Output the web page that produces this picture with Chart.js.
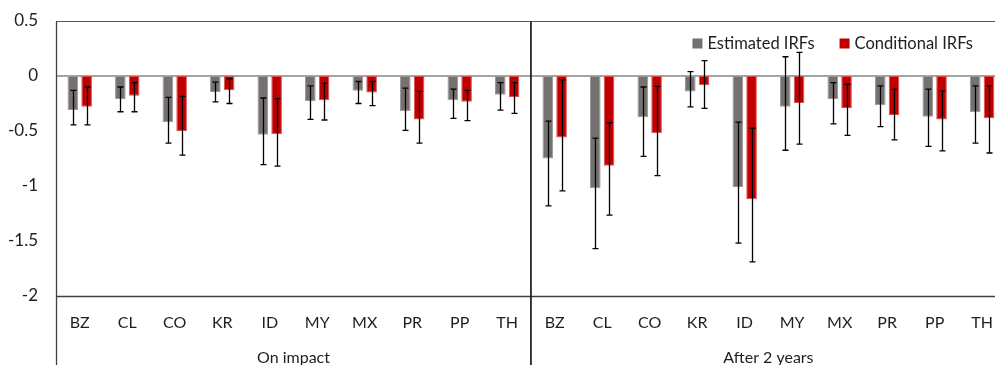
<!DOCTYPE html>
<html>
<head>
<meta charset="utf-8">
<script src="https://cdn.jsdelivr.net/npm/chart.js@4.4.1/dist/chart.umd.min.js"></script>
<style>
  html, body { margin: 0; padding: 0; background: #fff; overflow: hidden; }
  #wrap { width: 995px; height: 365px; overflow: hidden; position: relative; }
  canvas { display: block; }
</style>
</head>
<body>
<div id="wrap"><canvas id="c" width="1010" height="365"></canvas></div>
<script>
// ---- data ----
const countries = ['BZ','CL','CO','KR','ID','MY','MX','PR','PP','TH'];
const groups = ['On impact', 'After 2 years'];
const yTicks = [0.5, 0, -0.5, -1, -1.5, -2];

const estImpact    = [-0.31, -0.21, -0.42, -0.145, -0.535, -0.23, -0.135, -0.32, -0.22, -0.17];
const estImpactLo  = [-0.445, -0.325, -0.61, -0.235, -0.805, -0.395, -0.25, -0.495, -0.385, -0.31];
const estImpactHi  = [-0.13, -0.10, -0.195, -0.055, -0.20, -0.09, -0.05, -0.11, -0.12, -0.06];
const condImpact   = [-0.28, -0.18, -0.50, -0.13, -0.53, -0.22, -0.15, -0.395, -0.235, -0.19];
const condImpactLo = [-0.445, -0.325, -0.72, -0.25, -0.82, -0.40, -0.27, -0.61, -0.405, -0.34];
const condImpactHi = [-0.10, -0.06, -0.185, -0.025, -0.205, -0.065, -0.05, -0.14, -0.13, -0.06];

const est2y    = [-0.75, -1.02, -0.375, -0.14, -1.01, -0.28, -0.21, -0.265, -0.37, -0.33];
const est2yLo  = [-1.18, -1.57, -0.73, -0.28, -1.52, -0.675, -0.435, -0.46, -0.64, -0.61];
const est2yHi  = [-0.41, -0.565, -0.10, 0.04, -0.42, 0.175, -0.06, -0.09, -0.12, -0.09];
const cond2y   = [-0.56, -0.815, -0.52, -0.085, -1.12, -0.245, -0.29, -0.355, -0.395, -0.385];
const cond2yLo = [-1.045, -1.265, -0.905, -0.295, -1.69, -0.62, -0.54, -0.58, -0.68, -0.70];
const cond2yHi = [-0.035, -0.425, -0.095, 0.14, -0.475, 0.215, -0.075, -0.12, -0.135, -0.09];

// ---- build ----
const FONT = 'Lato, "Open Sans", sans-serif';
const TXT = '#1e1e1e';
const labels = countries.concat(countries);

const datasets = [
  {
    label: 'Estimated IRFs',
    data: estImpact.concat(est2y),
    errLo: estImpactLo.concat(est2yLo),
    errHi: estImpactHi.concat(est2yHi),
    backgroundColor: '#767171',
    borderColor: '#9c9898',
    borderWidth: 1,
    borderSkipped: false
  },
  {
    label: 'Conditional IRFs',
    data: condImpact.concat(cond2y),
    errLo: condImpactLo.concat(cond2yLo),
    errHi: condImpactHi.concat(cond2yHi),
    backgroundColor: '#C00000',
    borderColor: '#d85050',
    borderWidth: 1,
    borderSkipped: false
  }
];

function hline(ctx, x1, x2, y, color, w) {
  ctx.save(); ctx.strokeStyle = color; ctx.lineWidth = w;
  ctx.beginPath(); ctx.moveTo(x1, y); ctx.lineTo(x2, y); ctx.stroke(); ctx.restore();
}
function vline(ctx, x, y1, y2, color, w) {
  ctx.save(); ctx.strokeStyle = color; ctx.lineWidth = w;
  ctx.beginPath(); ctx.moveTo(x, y1); ctx.lineTo(x, y2); ctx.stroke(); ctx.restore();
}

const framePlugin = {
  id: 'frame',
  beforeDatasetsDraw(chart) {
    const { ctx, chartArea: a, scales } = chart;
    const x = scales.x, y = scales.y;
    const yTop = Math.round(y.getPixelForValue(yTicks[0])) + 0.5;
    const yBot = Math.round(y.getPixelForValue(yTicks[yTicks.length - 1])) + 0.5;
    const y0 = y.getPixelForValue(0);
    hline(ctx, a.left, a.right, yTop, '#595959', 1);
    hline(ctx, a.left, a.right, yBot, '#404040', 1.3);
    hline(ctx, a.left, a.right, y0, '#868686', 1.5);
    const n = labels.length;
    const half = n / 2;
    const xl = Math.round(a.left) + 0.5;
    const xm = (x.getPixelForValue(half - 1) + x.getPixelForValue(half)) / 2;
    vline(ctx, xl, yTop, chart.height, '#404040', 1.3);
    vline(ctx, xm, yTop, chart.height, '#1a1a1a', 1.7);
    vline(ctx, a.right, yTop, chart.height, '#404040', 1.3);
  },
  afterDatasetsDraw(chart) {
    const { ctx, scales } = chart;
    const y = scales.y;
    chart.data.datasets.forEach((ds, i) => {
      const meta = chart.getDatasetMeta(i);
      meta.data.forEach((bar, j) => {
        const bx = Math.round(bar.x) + 0.5;
        const lo = y.getPixelForValue(ds.errLo[j]);
        const hi = y.getPixelForValue(ds.errHi[j]);
        ctx.save();
        ctx.strokeStyle = '#000';
        ctx.lineWidth = 1.3;
        ctx.beginPath();
        ctx.moveTo(bx, lo); ctx.lineTo(bx, hi);
        ctx.moveTo(bx - 3, lo); ctx.lineTo(bx + 3, lo);
        ctx.moveTo(bx - 3, hi); ctx.lineTo(bx + 3, hi);
        ctx.stroke();
        ctx.restore();
      });
    });
    // legend (inside plot area, top right)
    const a = chart.chartArea;
    ctx.save();
    ctx.font = '16.5px ' + FONT;
    ctx.textBaseline = 'middle';
    ctx.textAlign = 'left';
    const box = 10, gapBox = 5, gapItem = 25;
    const widths = chart.data.datasets.map(d => ctx.measureText(d.label).width);
    const total = widths.reduce((s, w) => s + box + gapBox + w, 0) + gapItem * (widths.length - 1);
    let cx = a.right - 33 - total;
    const cy = a.top + 22.5;
    chart.data.datasets.forEach((d, i) => {
      ctx.fillStyle = d.backgroundColor;
      ctx.fillRect(cx, cy - box / 2, box, box);
      cx += box + gapBox;
      ctx.fillStyle = TXT;
      ctx.fillText(d.label, cx, cy);
      cx += widths[i] + gapItem;
    });
    ctx.restore();
  }
};

new Chart(document.getElementById('c'), {
  type: 'bar',
  data: { labels, datasets },
  options: {
    responsive: false,
    animation: false,
    devicePixelRatio: 1,
    layout: { padding: { top: 21, right: 1, left: 0, bottom: 0 } },
    plugins: { legend: { display: false }, tooltip: { enabled: false } },
    datasets: { bar: { categoryPercentage: 0.58, barPercentage: 0.77 } },
    scales: {
      x: {
        type: 'category',
        offset: true,
        grid: { display: false, drawTicks: false },
        border: { display: false },
        ticks: { color: TXT, font: { family: FONT, size: 16 }, padding: 17, maxRotation: 0, autoSkip: false },
        afterFit(s) { s.height = 38; }
      },
      x2: {
        type: 'category',
        position: 'bottom',
        labels: groups,
        offset: true,
        grid: { display: false, drawTicks: false },
        border: { display: false },
        ticks: { color: TXT, font: { family: FONT, size: 16 }, padding: 14, maxRotation: 0, autoSkip: false },
        afterFit(s) { s.height = 31; }
      },
      y: {
        min: yTicks[yTicks.length - 1],
        max: yTicks[0],
        afterBuildTicks(s) { s.ticks = yTicks.map(v => ({ value: v })); },
        grid: { display: false, drawTicks: false },
        border: { display: false },
        ticks: { color: TXT, font: { family: FONT, size: 17 }, padding: 18, callback: v => String(v) },
        afterFit(s) { s.width = 56; s.paddingTop = 0; s.paddingBottom = 0; }
      }
    }
  },
  plugins: [framePlugin]
});
</script>
</body>
</html>
